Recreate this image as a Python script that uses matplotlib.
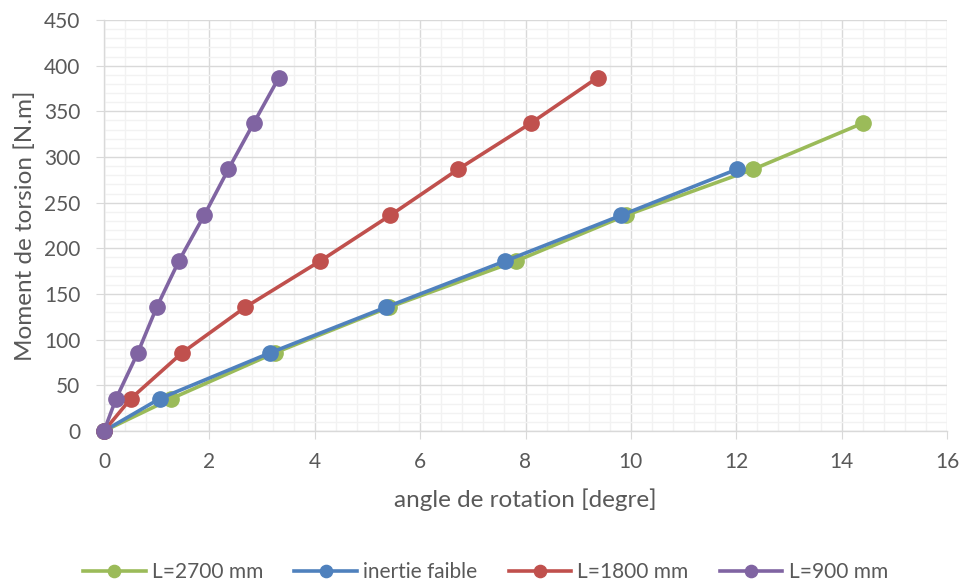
import matplotlib.pyplot as plt
from matplotlib.ticker import MultipleLocator

plt.rcParams["font.family"] = ["Lato", "DejaVu Sans"]

# torque levels shared by all series
moment = [0, 35.5, 85.5, 135.5, 186, 236, 286.5, 337, 387]

ang_2700 = [0, 1.28, 3.24, 5.41, 7.82, 9.90, 12.32, 14.40]
ang_inertie = [0, 1.06, 3.15, 5.35, 7.61, 9.81, 12.01]
ang_1800 = [0, 0.51, 1.48, 2.68, 4.10, 5.43, 6.72, 8.10, 9.37]
ang_900 = [0, 0.23, 0.64, 1.00, 1.42, 1.90, 2.36, 2.84, 3.32]

series = [
    ("L=2700 mm", ang_2700, "#9bbb59"),
    ("inertie faible", ang_inertie, "#4f81bd"),
    ("L=1800 mm", ang_1800, "#c0504d"),
    ("L=900 mm", ang_900, "#8064a2"),
]

TXT = "#595959"

fig = plt.figure(figsize=(9.65, 5.84), dpi=100)
ax = fig.add_axes([104 / 965, 1 - 431 / 584, (947 - 104) / 965, (431 - 20) / 584])

for label, xs, col in series:
    ax.plot(xs, moment[:len(xs)], color=col, lw=2.6, marker="o", ms=11,
            label=label, zorder=3, clip_on=False)

ax.set_xlim(0, 16)
ax.set_ylim(0, 450)
ax.xaxis.set_major_locator(MultipleLocator(2))
ax.xaxis.set_minor_locator(MultipleLocator(0.4))
ax.yaxis.set_major_locator(MultipleLocator(50))
ax.yaxis.set_minor_locator(MultipleLocator(10))
ax.grid(which="major", color="#d9d9d9", lw=1.0, zorder=1)
ax.grid(which="minor", color="#f2f2f2", lw=1.0, zorder=0)
ax.set_axisbelow(True)

for s in ("top", "right"):
    ax.spines[s].set_visible(False)
for s in ("left", "bottom"):
    ax.spines[s].set_color("#d9d9d9")
    ax.spines[s].set_linewidth(1.0)
ax.tick_params(which="major", length=6, color="#d9d9d9", labelcolor=TXT,
               labelsize=15)
ax.tick_params(axis="y", pad=11)
ax.tick_params(axis="x", pad=9)
ax.tick_params(which="minor", length=0)

ax.set_xlabel("angle de rotation [degre]", color=TXT, fontsize=17.5)
ax.xaxis.set_label_coords(0.5, (431 - 500) / 411, transform=ax.transAxes)
ax.set_ylabel("Moment de torsion [N.m]", color=TXT, fontsize=17.5)
ax.yaxis.set_label_coords((25 - 104) / 843, 0.5, transform=ax.transAxes)
ax.xaxis.label.set_va("center")
ax.yaxis.label.set_va("center")

fig.legend(loc="center", bbox_to_anchor=(0.503, 1 - 572 / 584),
           ncol=4, frameon=False, fontsize=15, handlelength=3.0,
           markerscale=0.8, columnspacing=1.5, handletextpad=0.3,
           labelcolor=TXT)

fig.savefig("out.png", dpi=100, facecolor="white")
